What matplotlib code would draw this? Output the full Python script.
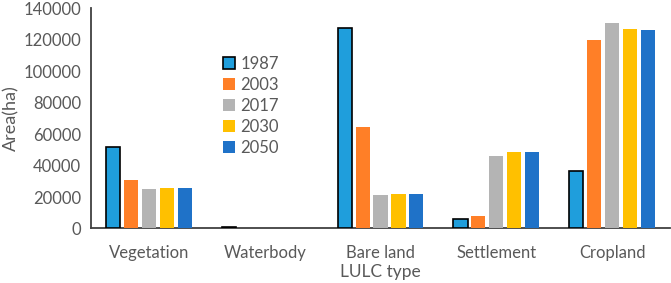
import matplotlib
matplotlib.use("Agg")
import matplotlib.pyplot as plt
import numpy as np

categories = ["Vegetation", "Waterbody", "Bare land", "Settlement", "Cropland"]
years = ["1987", "2003", "2017", "2030", "2050"]
area_1987 = [52000, 1200, 127300, 6000, 36700]
area_2003 = [30800, 0, 64400, 7900, 119500]
area_2017 = [24900, 0, 21000, 46000, 130700]
area_2030 = [25500, 0, 22100, 48600, 126700]
area_2050 = [25500, 0, 22100, 48600, 126200]
series = [area_1987, area_2003, area_2017, area_2030, area_2050]
colors = ["#1F9EDC", "#FF7F27", "#B4B4B4", "#FFC000", "#1F72C8"]

plt.rcParams["font.family"] = ["Lato", "DejaVu Sans"]
txt = "#595959"

fig = plt.figure(figsize=(6.71, 2.83), dpi=100)
ax = fig.add_axes([0.1356, 0.1926, 0.863, 0.779])

x = np.arange(len(categories))
pitch = 0.155
width = 0.122
for i, (vals, c) in enumerate(zip(series, colors)):
    off = (i - 2) * pitch
    if i == 0:
        ax.bar(x + off, vals, width, color=c, edgecolor="black", linewidth=1.2,
               label=years[i], zorder=3)
    else:
        ax.bar(x + off, vals, width, color=c, label=years[i], zorder=3)

ax.set_xlim(-0.5, len(categories) - 0.5)
ax.set_ylim(0, 140000)
ax.set_yticks(range(0, 140001, 20000))
ax.set_xticks(x)
ax.set_xticklabels(categories)
ax.tick_params(length=0, labelsize=12, colors=txt, pad=12)
ax.tick_params(axis="y", pad=7)
for s in ["top", "right"]:
    ax.spines[s].set_visible(False)
ax.spines["bottom"].set_color("#404040")
ax.spines["bottom"].set_linewidth(1.3)
ax.spines["left"].set_color("#404040")
ax.spines["left"].set_linewidth(1.3)

ax.set_ylabel("Area(ha)", fontsize=13, color=txt, labelpad=3)
ax.set_xlabel("LULC type", fontsize=12.5, color=txt, labelpad=2)

fig.legend(loc="upper left", bbox_to_anchor=(0.31, 0.855), frameon=False,
           fontsize=12, labelcolor=txt, handlelength=0.7, handleheight=0.7,
           handletextpad=0.35, labelspacing=0.3)

fig.savefig("out.png", dpi=100)
